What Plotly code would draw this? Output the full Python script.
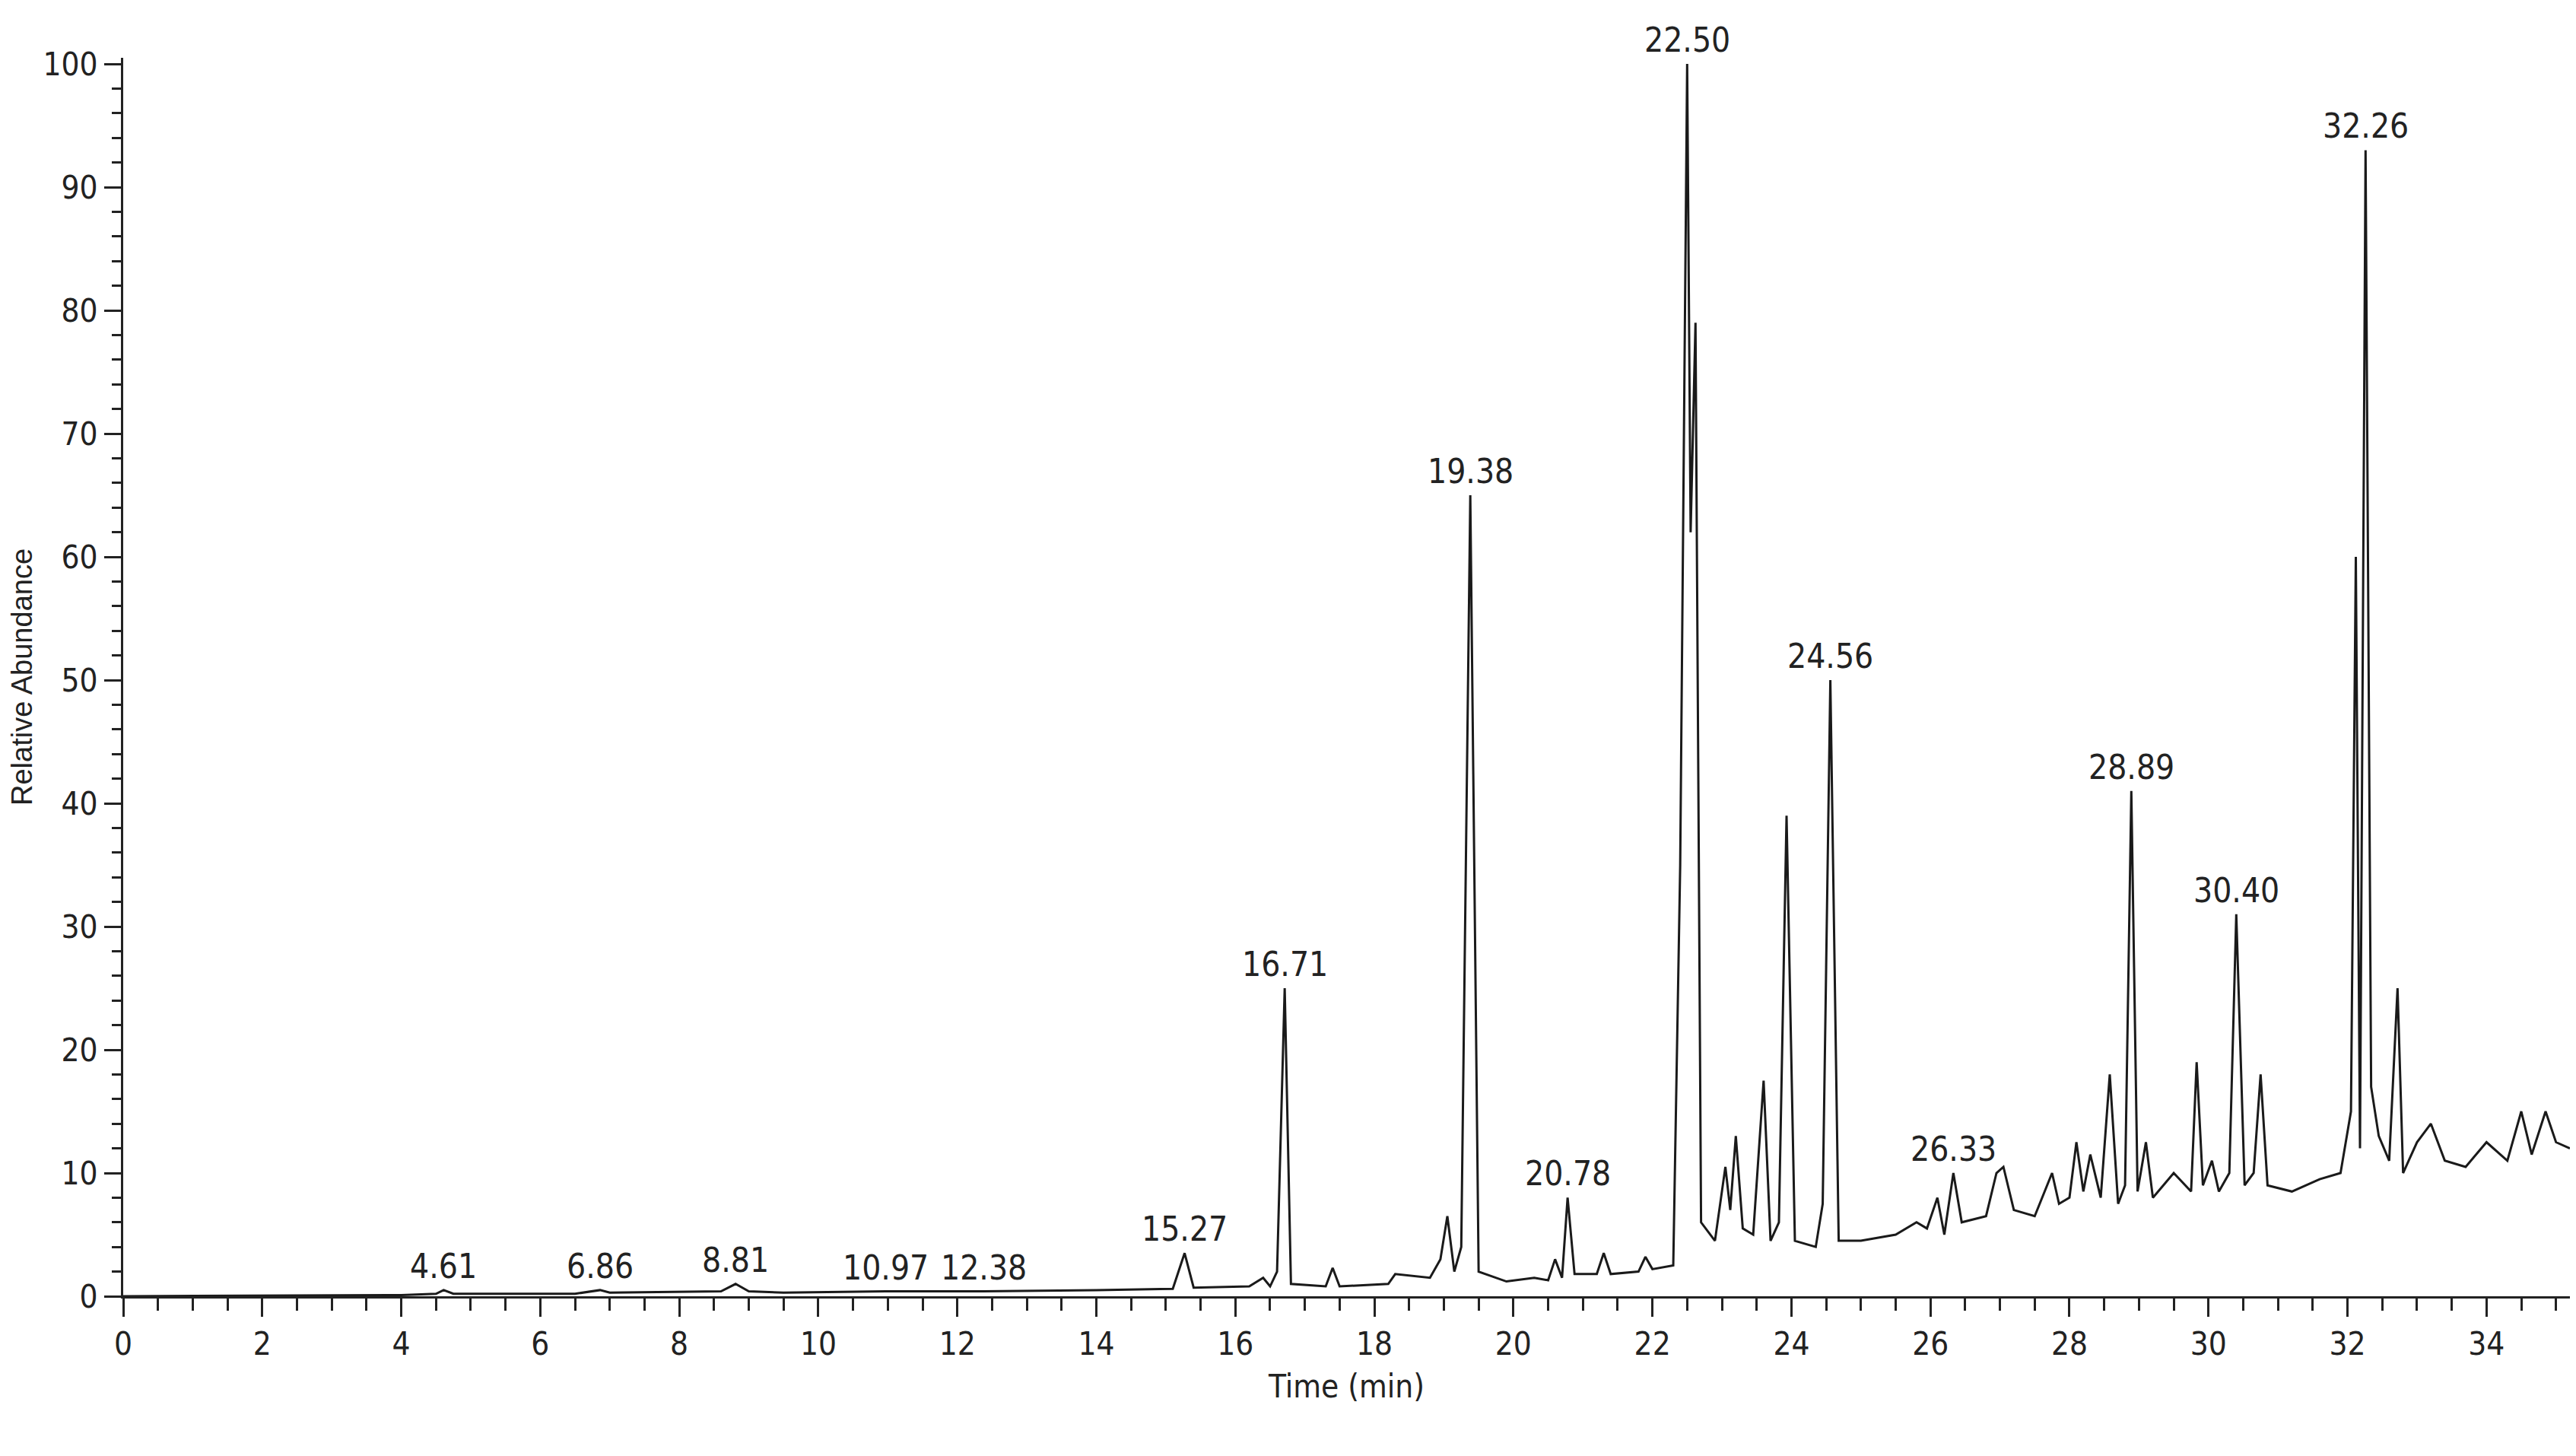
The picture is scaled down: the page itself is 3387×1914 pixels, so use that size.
import plotly.graph_objects as go

# chromatogram trace vertices (time in min, relative abundance)
time = [0.0, 4.0, 4.5, 4.61, 4.75, 6.5, 6.86, 7.0, 8.6, 8.81, 9.0, 9.5, 10.97, 12.38, 14.0, 15.1,
        15.27, 15.4, 16.2, 16.4, 16.5, 16.6, 16.71, 16.8, 17.3, 17.4, 17.5, 18.2, 18.3, 18.8,
        18.95, 19.05, 19.15, 19.25, 19.38, 19.5, 19.9, 20.3, 20.5, 20.6, 20.7, 20.78, 20.88,
        21.2, 21.3, 21.4, 21.8, 21.9, 22.0, 22.3, 22.40, 22.50, 22.55, 22.62, 22.70, 22.9,
        23.05, 23.12, 23.20, 23.30, 23.45, 23.60, 23.70, 23.82, 23.93, 24.05, 24.35, 24.45,
        24.56, 24.68, 25.0, 25.5, 25.8, 25.95, 26.1, 26.2, 26.33, 26.45, 26.8, 26.95, 27.05,
        27.2, 27.5, 27.75, 27.85, 28.0, 28.1, 28.2, 28.3, 28.45, 28.58, 28.7, 28.8, 28.89,
        28.98, 29.1, 29.2, 29.5, 29.75, 29.83, 29.92, 30.05, 30.15, 30.3, 30.40, 30.52,
        30.65, 30.75, 30.85, 31.2, 31.6, 31.9, 32.05, 32.12, 32.18, 32.26, 32.34, 32.45,
        32.6, 32.72, 32.8, 33.0, 33.2, 33.4, 33.7, 34.0, 34.3, 34.5, 34.65, 34.85, 35.0, 35.2]
abundance = [0.0, 0.1, 0.2, 0.5, 0.2, 0.2, 0.5, 0.3, 0.4, 1.0, 0.4, 0.3, 0.4, 0.4, 0.5, 0.6,
             3.5, 0.7, 0.8, 1.5, 0.8, 2.0, 25.0, 1.0, 0.8, 2.3, 0.8, 1.0, 1.8, 1.5,
             3.0, 6.5, 2.0, 4.0, 65.0, 2.0, 1.2, 1.5, 1.3, 3.0, 1.5, 8.0, 1.8,
             1.8, 3.5, 1.8, 2.0, 3.2, 2.2, 2.5, 35.0, 100.0, 62.0, 79.0, 6.0, 4.5,
             10.5, 7.0, 13.0, 5.5, 5.0, 17.5, 4.5, 6.0, 39.0, 4.5, 4.0, 7.5,
             50.0, 4.5, 4.5, 5.0, 6.0, 5.5, 8.0, 5.0, 10.0, 6.0, 6.5, 10.0, 10.5,
             7.0, 6.5, 10.0, 7.5, 8.0, 12.5, 8.5, 11.5, 8.0, 18.0, 7.5, 9.0, 41.0,
             8.5, 12.5, 8.0, 10.0, 8.5, 19.0, 9.0, 11.0, 8.5, 10.0, 31.0, 9.0,
             10.0, 18.0, 9.0, 8.5, 9.5, 10.0, 15.0, 60.0, 12.0, 93.0, 17.0, 13.0,
             11.0, 25.0, 10.0, 12.5, 14.0, 11.0, 10.5, 12.5, 11.0, 15.0, 11.5, 15.0, 12.5, 12.0]

peak_times = [4.61, 6.86, 8.81, 10.97, 12.38, 15.27, 16.71, 19.38, 20.78, 22.50, 24.56,
              26.33, 28.89, 30.40, 32.26]
peak_heights = [0.5, 0.5, 1.0, 0.4, 0.4, 3.5, 25.0, 65.0, 8.0, 100.0, 50.0, 10.0, 41.0, 31.0, 93.0]

FONT = "DejaVu Sans Condensed, Liberation Sans Narrow, sans-serif"

fig = go.Figure()
fig.add_trace(go.Scatter(x=time, y=abundance, mode="lines",
                         line=dict(color="#1a1a1a", width=3), hoverinfo="x+y"))

for t, h in zip(peak_times, peak_heights):
    fig.add_annotation(x=t, y=h, text=f"{t:.2f}", showarrow=False, yanchor="bottom",
                       yshift=4, font=dict(family=FONT, size=44, color="#222222"))

fig.update_layout(
    width=3387, height=1914,
    margin=dict(l=138, r=16, t=68, b=218),
    plot_bgcolor="white", paper_bgcolor="white",
    showlegend=False,
    font=dict(family=FONT, size=42, color="#222222"),
    xaxis=dict(range=[0, 35.2], tickmode="linear", tick0=0, dtick=2,
               ticks="outside", ticklen=24, tickwidth=2.5, tickcolor="#222222",
               minor=dict(dtick=0.5, ticks="outside", ticklen=16, tickwidth=2.5, tickcolor="#222222"),
               showline=True, linecolor="#222222", linewidth=3, showgrid=False, zeroline=False,
               title=dict(text="Time (min)", font=dict(size=42), standoff=18)),
    yaxis=dict(range=[0, 100.5], tickmode="linear", tick0=0, dtick=10,
               ticks="outside", ticklen=22, tickwidth=2.5, tickcolor="#222222",
               minor=dict(dtick=2, ticks="outside", ticklen=12, tickwidth=2.5, tickcolor="#222222"),
               showline=True, linecolor="#222222", linewidth=3, showgrid=False, zeroline=False,
               title=dict(text="Relative Abundance", font=dict(family="Liberation Sans, Arial", size=38),
                          standoff=10)),
)

fig.write_html("out.html")
